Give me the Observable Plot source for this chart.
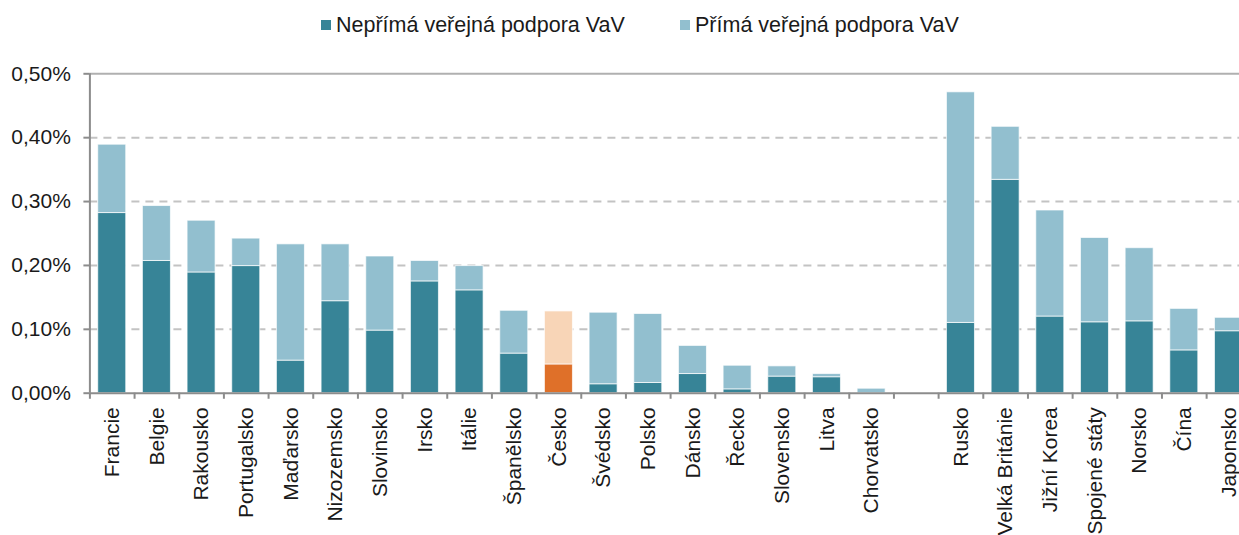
<!DOCTYPE html>
<html>
<head>
<meta charset="utf-8">
<script src="https://cdn.jsdelivr.net/npm/d3@7"></script>
<script src="https://cdn.jsdelivr.net/npm/@observablehq/plot@0.6"></script>
<style>
  html, body { margin: 0; padding: 0; background: white; overflow: hidden; }
  body { width: 1239px; height: 535px; font-family: "Liberation Sans", Arial, sans-serif; color: #1a1a1a; }
  #legend { position: relative; height: 45px; font-size: 21.5px; line-height: 24px; }
  #legend .item { position: absolute; top: 13px; white-space: nowrap; }
  #legend .sw { position: absolute; width: 10px; height: 10px; top: 7px; }
  #legend .lab { position: absolute; left: 15px; top: 0; }
</style>
</head>
<body>
<div id="legend"></div>
<div id="chart"></div>
<script>
// Categories (" " = gap between EU and non-EU groups)
const categories = [
  "Francie", "Belgie", "Rakousko", "Portugalsko", "Maďarsko", "Nizozemsko",
  "Slovinsko", "Irsko", "Itálie", "Španělsko", "Česko", "Švédsko", "Polsko",
  "Dánsko", "Řecko", "Slovensko", "Litva", "Chorvatsko", " ",
  "Rusko", "Velká Británie", "Jižní Korea", "Spojené státy", "Norsko", "Čína", "Japonsko"
];
// Nepřímá veřejná podpora VaV (% HDP)
const indirect = [
  0.282, 0.207, 0.189, 0.199, 0.051, 0.144,
  0.098, 0.175, 0.161, 0.062, 0.045, 0.014, 0.016,
  0.030, 0.006, 0.026, 0.025, 0.000, null,
  0.110, 0.334, 0.120, 0.111, 0.1125, 0.067, 0.097
];
// Přímá veřejná podpora VaV (% HDP)
const direct = [
  0.107, 0.086, 0.081, 0.043, 0.182, 0.089,
  0.116, 0.032, 0.038, 0.067, 0.083, 0.112, 0.108,
  0.044, 0.037, 0.016, 0.005, 0.007, null,
  0.361, 0.083, 0.166, 0.132, 0.1145, 0.065, 0.021
];
const yTicks = [0, 0.1, 0.2, 0.3, 0.4, 0.5];
const seriesNames = ["Nepřímá veřejná podpora VaV", "Přímá veřejná podpora VaV"];
const highlight = "Česko";

const colors = {
  indirect: "#378497", direct: "#92bfcf",
  indirectHi: "#df7029", directHi: "#f8d5b7"
};

// Legend
const legend = document.getElementById("legend");
const legendItems = [
  {label: seriesNames[0], color: colors.indirect, left: 321},
  {label: seriesNames[1], color: colors.direct, left: 680}
];
for (const it of legendItems) {
  const d = document.createElement("div");
  d.className = "item";
  d.style.left = it.left + "px";
  d.innerHTML = `<span class="sw" style="background:${it.color}"></span><span class="lab">${it.label}</span>`;
  legend.appendChild(d);
}

// Long-format rows
const rows = [];
categories.forEach((c, i) => {
  if (c.trim() === "") return;
  rows.push({country: c, series: "indirect", value: indirect[i]});
  rows.push({country: c, series: "direct", value: direct[i]});
});

const step = (1250.8 - 89.4) / categories.length;

const chart = Plot.plot({
  width: 1239,
  height: 490,
  marginTop: 28.3,
  marginBottom: 142.3,
  marginLeft: 89.4,
  marginRight: 0,
  style: {fontFamily: "'Liberation Sans', Arial, sans-serif", fontSize: "21px", color: "#1a1a1a", background: "white", overflow: "hidden"},
  x: {domain: categories, range: [89.4, 1250.8], paddingInner: 0.373, paddingOuter: 0.1865, align: 0.5, round: false, axis: null, label: null},
  y: {domain: [0, 0.5], axis: null, label: null},
  color: {type: "identity"},
  marks: [
    Plot.ruleY([0.1, 0.2, 0.3, 0.4], {stroke: "#c3c3c3", strokeWidth: 2, strokeDasharray: "8,6"}),
    Plot.ruleY([0.5], {stroke: "#b0b0b0", strokeWidth: 2}),
    Plot.barY(rows, {
      x: "country", y: "value",
      fill: d => d.country === highlight
        ? (d.series === "indirect" ? colors.indirectHi : colors.directHi)
        : (d.series === "indirect" ? colors.indirect : colors.direct),
      stroke: "white", strokeOpacity: 0.7, strokeWidth: 1
    }),
    // left axis line
    Plot.ruleX([categories[0]], {x: d => d, dx: -step / 2, y1: 0, y2: 0.5, stroke: "#8c8c8c", strokeWidth: 2}),
    // bottom axis line
    Plot.ruleY([0], {stroke: "#8c8c8c", strokeWidth: 2}),
    // ticks at category boundaries
    Plot.ruleX(categories, {x: d => d, dx: -step / 2, y1: 0, y2: -0.0095, stroke: "#8c8c8c", strokeWidth: 2}),
    Plot.axisY({ticks: yTicks, label: null, tickSize: 6, tickPadding: 13, fontSize: 21, stroke: "#8c8c8c", strokeWidth: 2,
      tickFormat: d => d.toFixed(2).replace(".", ",") + "%"}),
    Plot.axisX({label: null, tickRotate: -90, tickSize: 0, tickPadding: 14, fontSize: 21, tickFormat: d => d.trim()})
  ]
});
document.getElementById("chart").appendChild(chart);
</script>
</body>
</html>
